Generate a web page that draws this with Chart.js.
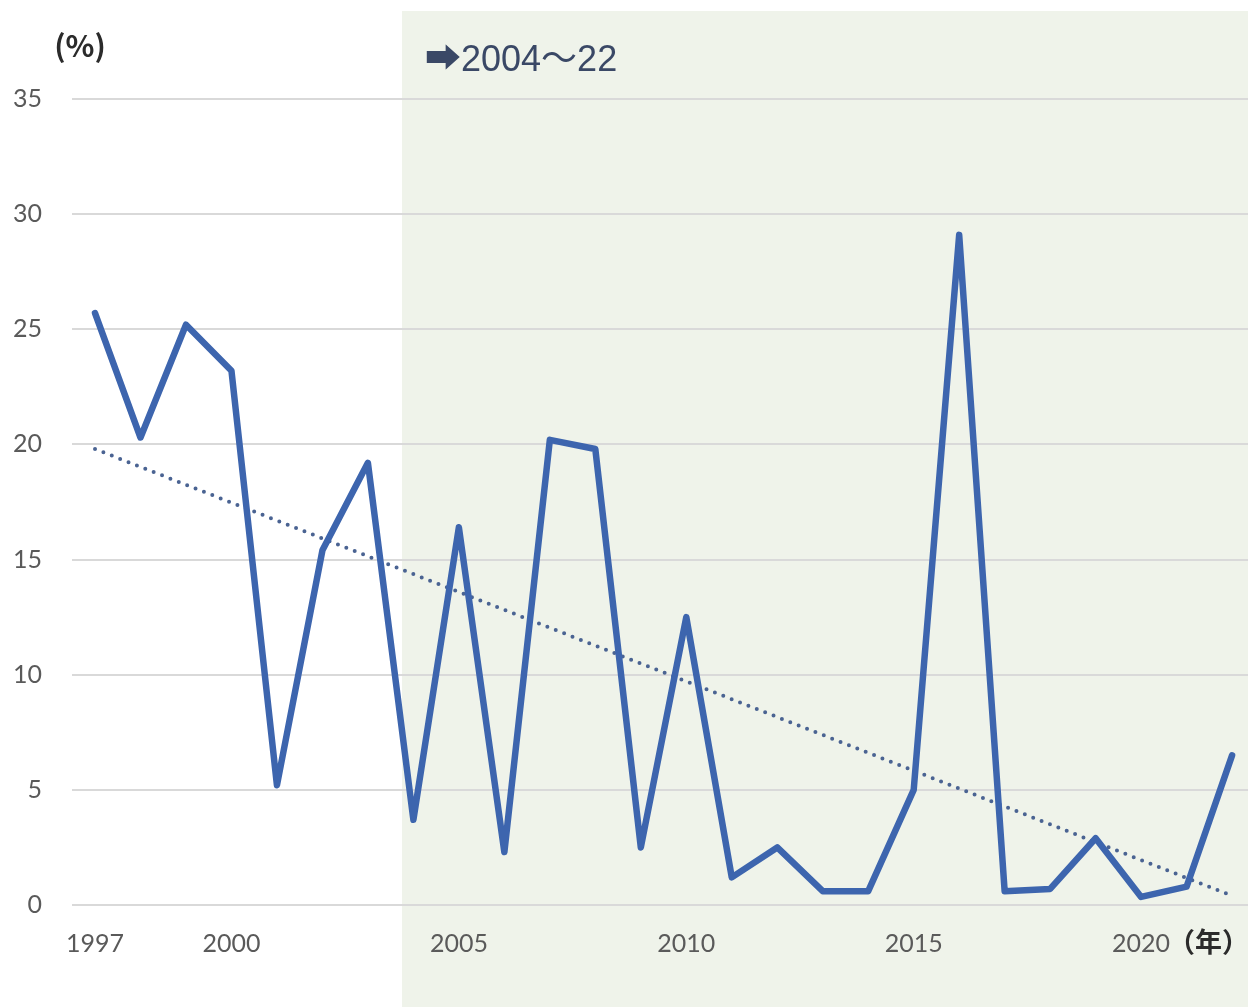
<!DOCTYPE html>
<html>
<head>
<meta charset="utf-8">
<script src="https://cdn.jsdelivr.net/npm/chart.js@4/dist/chart.umd.min.js"></script>
<style>
  html, body { margin: 0; padding: 0; background: #ffffff; }
  #wrap { width: 1248px; height: 1007px; }
</style>
</head>
<body>
<div id="wrap"><canvas id="c" width="1248" height="1007"></canvas></div>
<script>
// Annual values (%), 1997–2022
const years = [1997, 1998, 1999, 2000, 2001, 2002, 2003, 2004, 2005, 2006, 2007, 2008, 2009,
               2010, 2011, 2012, 2013, 2014, 2015, 2016, 2017, 2018, 2019, 2020, 2021, 2022];
const values = [25.7, 20.3, 25.2, 23.2, 5.2, 15.4, 19.2, 3.7, 16.4, 2.3, 20.2, 19.8, 2.5,
                12.5, 1.2, 2.5, 0.6, 0.6, 5.0, 29.1, 0.6, 0.7, 2.9, 0.35, 0.8, 6.5];

// Linear trend line end points
const trendYears = [1997, 2022];
const trendValues = [19.8, 0.4];

// Axis ticks and captions
const xTickYears = [1997, 2000, 2005, 2010, 2015, 2020];
const yTicks = [0, 5, 10, 15, 20, 25, 30, 35];
const periodLabel = '➡2004～22';
const periodStart = 2003.75;
const yUnit = '(%)';
const xUnit = '（年）';

const toPoints = (xs, ys) => xs.map((x, i) => ({ x, y: ys[i] }));

const shadePlugin = {
  id: 'periodShade',
  beforeDraw(chart) {
    const { ctx, scales: { x } } = chart;
    const left = x.getPixelForValue(periodStart);
    ctx.save();
    ctx.fillStyle = '#eff3ea';
    ctx.fillRect(left, 11, chart.width - left, chart.height - 11);
    ctx.restore();
  }
};

const captionPlugin = {
  id: 'captions',
  afterDraw(chart) {
    const { ctx, scales: { x } } = chart;
    ctx.save();
    ctx.textBaseline = 'middle';
    // period caption
    ctx.fillStyle = '#3a4866';
    ctx.textAlign = 'left';
    ctx.font = '36px "Liberation Sans", "Noto Sans CJK JP", "DejaVu Sans", sans-serif';
    ctx.fillText(periodLabel, x.getPixelForValue(periodStart) + 23, 61);
    // unit captions
    ctx.fillStyle = '#2b2b2b';
    ctx.textAlign = 'center';
    ctx.font = 'bold 30px "Noto Sans CJK JP", sans-serif';
    ctx.fillText(yUnit, 80, 46);
    ctx.textAlign = 'left';
    ctx.font = 'bold 27px "Noto Sans CJK JP", sans-serif';
    ctx.fillText(xUnit, 1168, 942);
    ctx.restore();
  }
};

new Chart(document.getElementById('c'), {
  type: 'line',
  data: {
    datasets: [
      {
        data: toPoints(years, values),
        borderColor: '#3d65ae',
        borderWidth: 6.5,
        pointRadius: 0,
        tension: 0,
        borderJoinStyle: 'round',
        borderCapStyle: 'round'
      },
      {
        data: toPoints(trendYears, trendValues),
        borderColor: '#4a6392',
        borderWidth: 4,
        borderDash: [0, 9],
        borderCapStyle: 'round',
        pointRadius: 0,
        tension: 0
      }
    ]
  },
  options: {
    responsive: false,
    animation: false,
    layout: { padding: { top: 99, right: 0, left: 0, bottom: 0 } },
    plugins: { legend: { display: false }, tooltip: { enabled: false } },
    scales: {
      x: {
        type: 'linear',
        min: 1996.494,
        max: 2022.35,
        afterBuildTicks(scale) { scale.ticks = xTickYears.map(v => ({ value: v })); },
        afterFit(scale) { scale.height = 102; },
        grid: { display: false, drawTicks: false },
        border: { display: false },
        ticks: {
          padding: 24,
          color: '#5a5a5a',
          font: { family: 'Lato, "Open Sans", sans-serif', size: 25 },
          maxRotation: 0,
          autoSkip: false,
          callback: v => String(v)
        }
      },
      y: {
        min: 0,
        max: 35,
        afterBuildTicks(scale) { scale.ticks = yTicks.map(v => ({ value: v })); },
        afterFit(scale) { scale.width = 72; },
        grid: { color: '#d9d9d9', lineWidth: 2, drawTicks: false },
        border: { display: false },
        ticks: {
          padding: 30,
          color: '#5a5a5a',
          font: { family: 'Lato, "Open Sans", sans-serif', size: 25 }
        }
      }
    }
  },
  plugins: [shadePlugin, captionPlugin]
});
</script>
</body>
</html>
